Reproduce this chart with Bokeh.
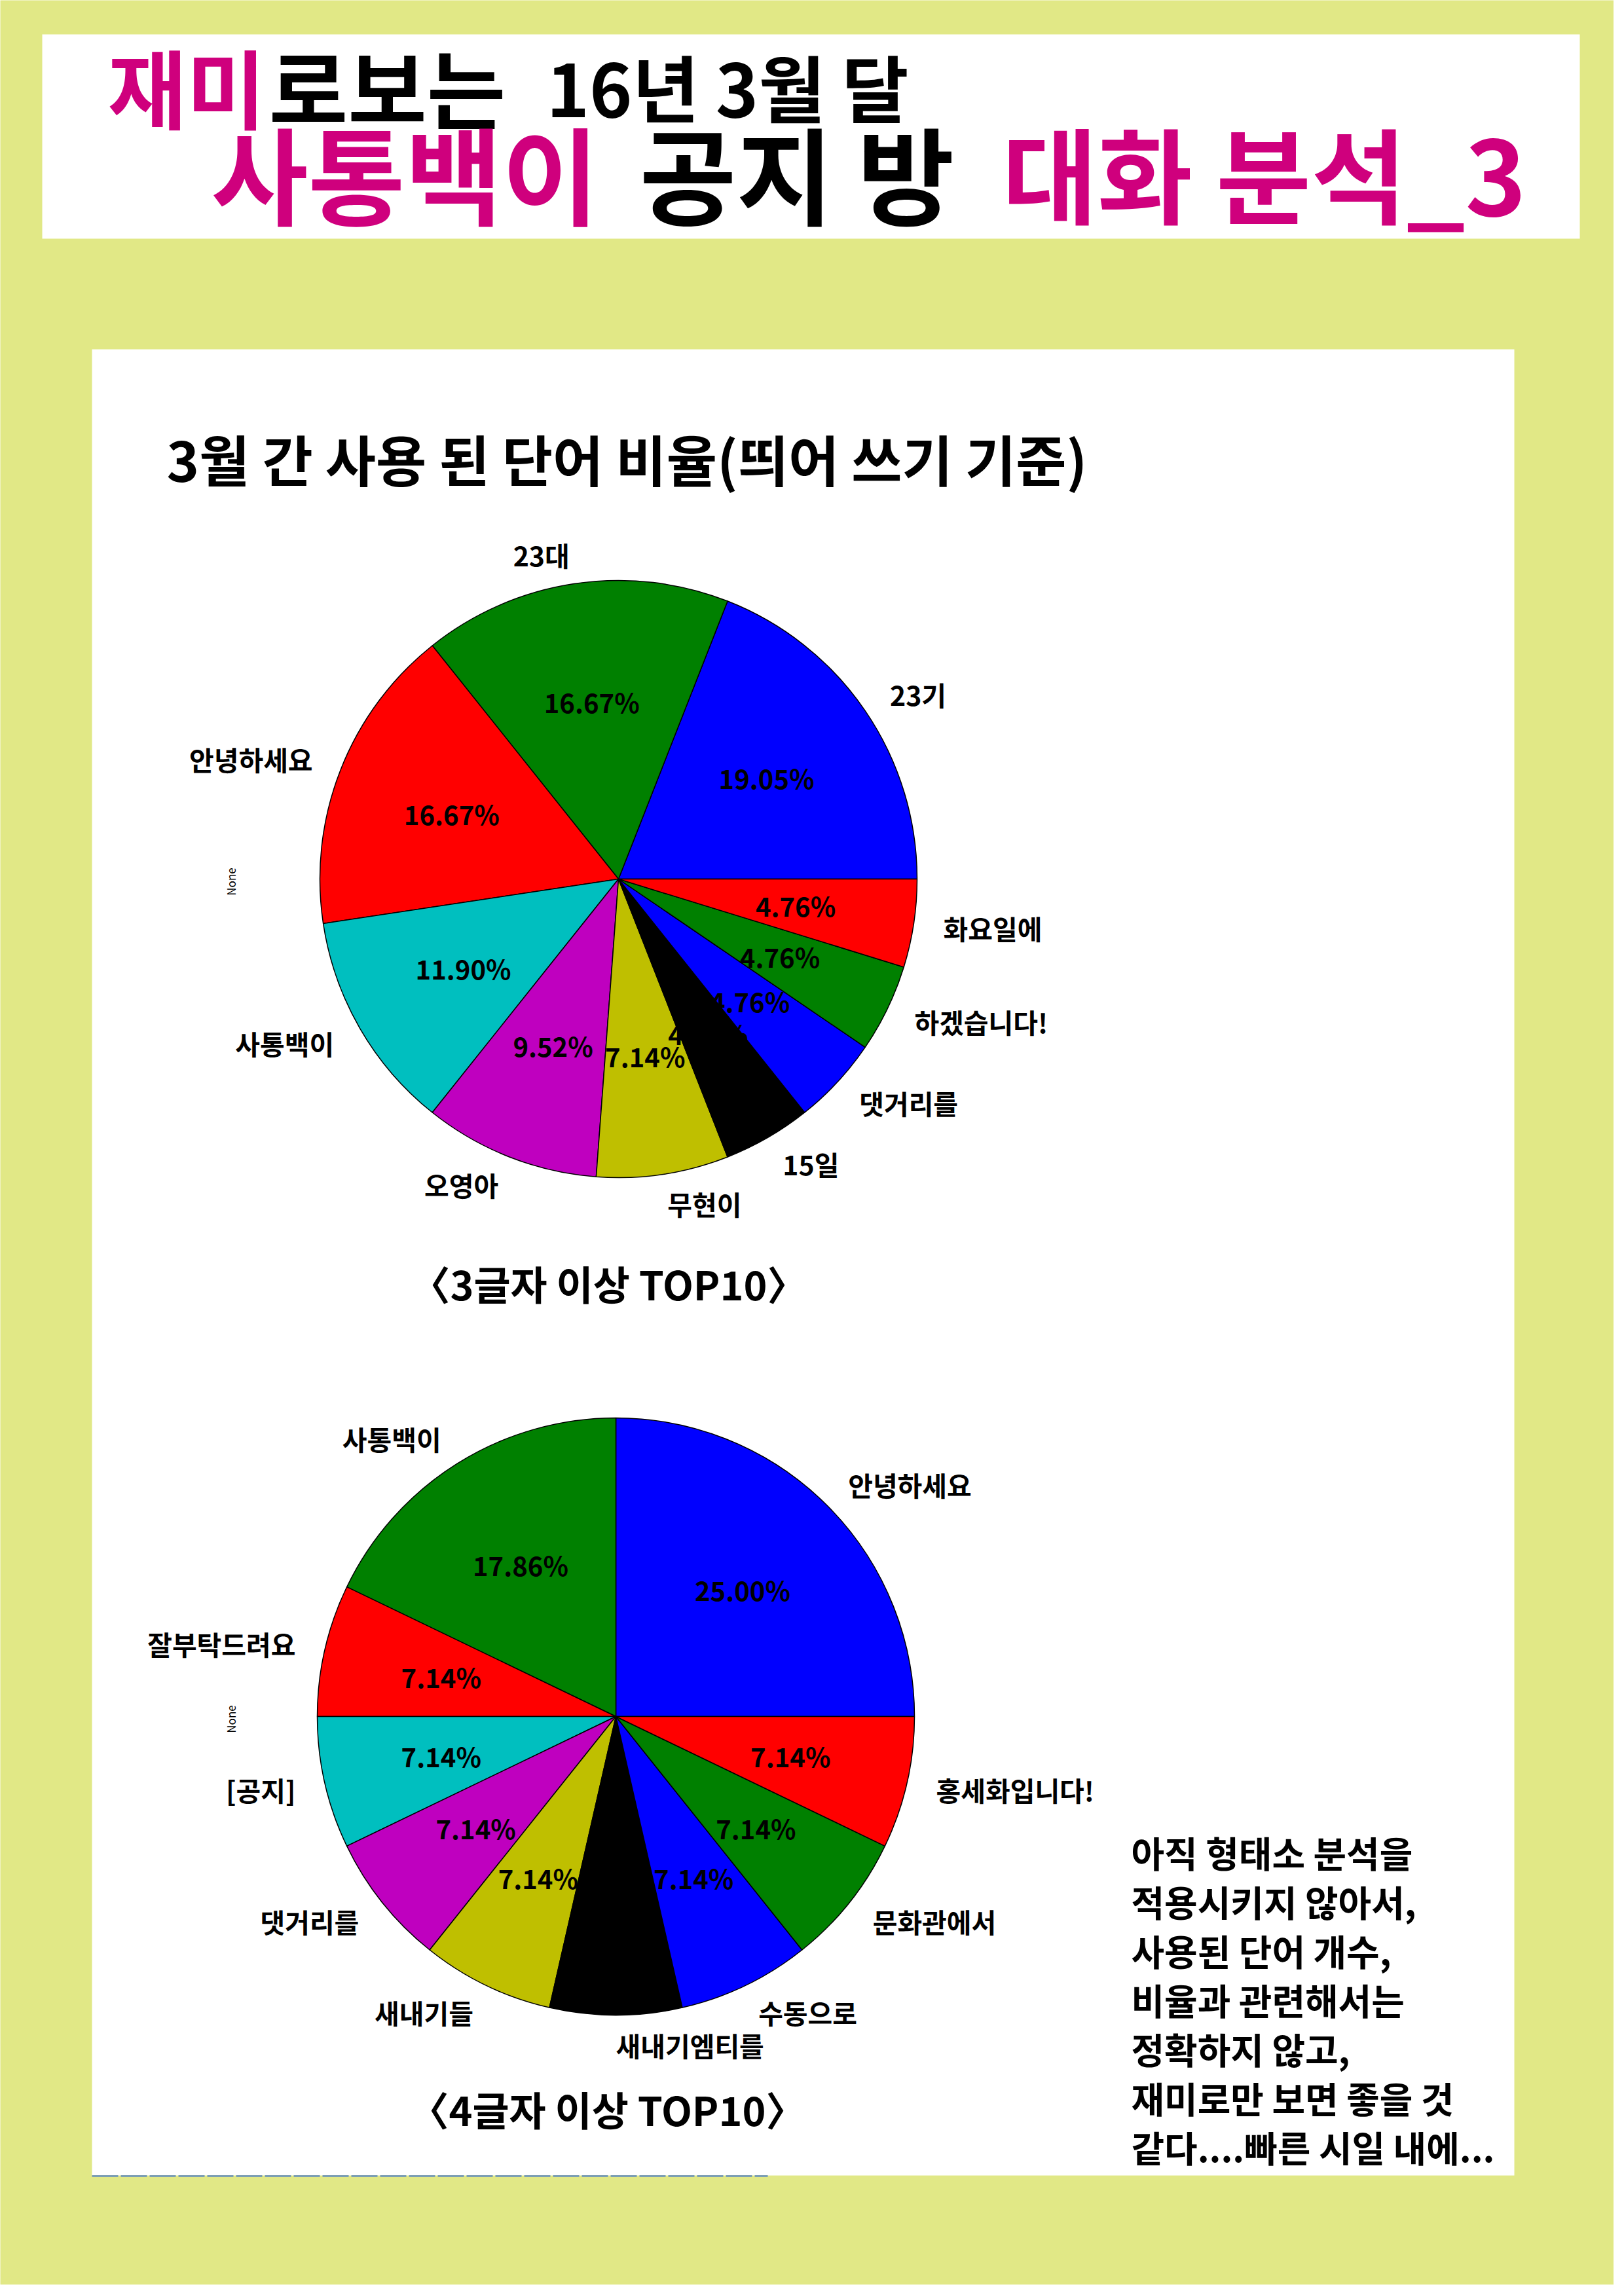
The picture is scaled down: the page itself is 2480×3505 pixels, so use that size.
import numpy as np
from bokeh.plotting import figure
from bokeh.models import Range1d, ColumnDataSource
from bokeh.core.properties import value
from bokeh.embed import file_html
from bokeh.resources import INLINE

# ---------------- data ----------------
labels1 = ["23기", "23대", "안녕하세요", "사통백이", "오영아", "무현이", "15일", "댓거리를", "하겠습니다!", "화요일에"]
counts1 = [8, 7, 7, 5, 4, 3, 2, 2, 2, 2]
labels2 = ["안녕하세요", "사통백이", "잘부탁드려요", "[공지]", "댓거리를", "새내기들", "새내기엠티를", "수동으로", "문화관에서", "홍세화입니다!"]
counts2 = [7, 5, 2, 2, 2, 2, 2, 2, 2, 2]
pie_colors = ["#0000FF", "#008000", "#FF0000", "#00BFBF", "#BF00BF", "#BFBF00", "#000000", "#0000FF", "#008000", "#FF0000"]
subtitle1 = "〈3글자 이상 TOP10〉"
subtitle2 = "〈4글자 이상 TOP10〉"
chart_title = "3월 간 사용 된 단어 비율(띄어 쓰기 기준)"
note_lines = ["아직 형태소 분석을", "적용시키지 않아서,", "사용된 단어 개수,", "비율과 관련해서는",
              "정확하지 않고,", "재미로만 보면 좋을 것", "같다....빠른 시일 내에..."]

W, H = 2464, 3489
BG = "#E1E886"
MAG = "#CF007D"
FONT = value("Noto Sans CJK KR")

def fx(X):
    return X - 8

def fy(Y):
    return H - (Y - 8)

p = figure(width=W, height=H, x_range=Range1d(0, W), y_range=Range1d(0, H),
           output_backend="svg", toolbar_location=None, min_border=0)
p.axis.visible = False
p.grid.visible = False
p.outline_line_color = None
p.background_fill_color = BG
p.border_fill_color = BG

# panels
p.quad(left=[fx(72)], right=[fx(2420)], top=[fy(60)], bottom=[fy(372)], fill_color="white", line_color=None)
p.quad(left=[fx(148)], right=[fx(2320)], top=[fy(541)], bottom=[fy(3330)], fill_color="white", line_color=None)
p.segment(x0=[fx(148)], y0=[fy(3331)], x1=[fx(1180)], y1=[fy(3331)], line_color="#7c9fb4",
          line_width=3, line_dash="40 4")

def t(x, y, s, size, color="black", align="left", bold=True, angle=0.0):
    p.text(x=[x], y=[y], text=[s], text_font=FONT, text_font_size=f"{size}px",
           text_color=color, text_align=align, text_baseline="middle",
           text_font_style="bold" if bold else "normal", angle=angle)

# title
t(fx(172), fy(137), "재미", 131, MAG)
t(fx(172 + 2 * 131 * 0.94), fy(137), "로보는", 131)
t(fx(842), fy(138), "16년 3월 달", 111)
t(fx(330), fy(269), "사통백이", 161, MAG)
t(fx(984), fy(269), "공지 방", 161)
t(fx(1538), fy(269), "대화 분석_3", 158, MAG)

t(fx(262), fy(707), chart_title, 84)

# pies
def pie(cx, cy, r, labels, counts):
    counts = np.array(counts, dtype=float)
    frac = counts / counts.sum()
    ends = np.cumsum(frac) * 2 * np.pi
    starts = np.concatenate([[0.0], ends[:-1]])
    mids = (starts + ends) / 2
    src = ColumnDataSource(dict(start=starts, end=ends, color=pie_colors[:len(counts)]))
    p.wedge(x=fx(cx), y=fy(cy), radius=r, start_angle="start", end_angle="end",
            direction="anticlock", fill_color="color", line_color="black", line_width=1.5, source=src)
    pct = [f"{v*100:.2f}%" for v in frac]
    px = fx(cx) + 0.6 * r * np.cos(mids)
    py = fy(cy) + 0.6 * r * np.sin(mids)
    p.text(x=px, y=py, text=pct, text_font=FONT, text_font_size="40px", text_font_style="bold",
           text_align="center", text_baseline="middle", text_color="black")
    lx = fx(cx) + 1.1 * r * np.cos(mids)
    ly = fy(cy) + 1.1 * r * np.sin(mids)
    aligns = ["left" if c > -1e-9 else "right" for c in np.cos(mids)]
    lsrc = ColumnDataSource(dict(x=lx, y=ly, text=labels, align=aligns))
    p.text(x="x", y="y", text="text", text_align="align", source=lsrc, text_font=FONT,
           text_font_size="41px", text_font_style="bold", text_baseline="middle", text_color="black")
    t(fx(360), fy(cy + 4), "None", 17, bold=False, align="center", angle=np.pi / 2)

pie(952, 1350, 456, labels1, counts1)
pie(948, 2629, 456, labels2, counts2)

t(fx(937), fy(1967), subtitle1, 61, align="center")
t(fx(935), fy(3228), subtitle2, 61, align="center")

for i, line in enumerate(note_lines):
    t(fx(1735), fy(2835 + i * 75), line, 55)

open("out.html", "w").write(file_html(p, INLINE))
